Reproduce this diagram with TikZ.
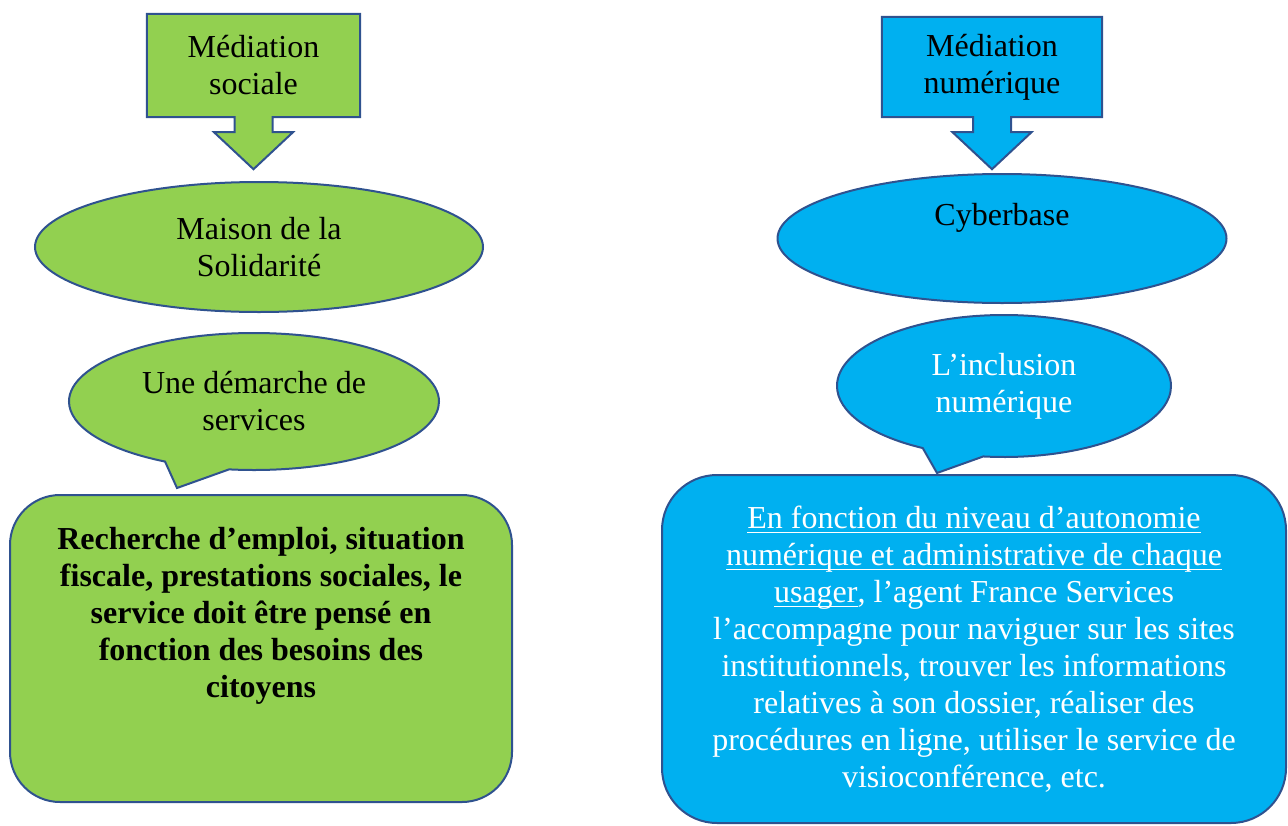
\documentclass[tikz,border=0pt]{standalone}
\usepackage{fontspec}
\setmainfont{Liberation Serif}
\usetikzlibrary{positioning,shapes.geometric,shapes.callouts,calc,backgrounds}
\definecolor{socgreen}{HTML}{92D050}
\definecolor{numblue}{HTML}{00B0F0}
\definecolor{rim}{HTML}{2F528F}
\tikzset{basic/.style={draw=rim,line width=2pt,align=center,inner sep=0pt,font=\fontsize{32}{37}\selectfont}}
\tikzset{head/.style={align=center,inner sep=0pt,minimum width=213pt,minimum height=103pt,font=\fontsize{32}{37}\selectfont}}
\tikzset{oval/.style={basic,ellipse,minimum width=448pt,minimum height=130pt}}
\tikzset{bubble/.style={basic,ellipse callout,callout pointer arc=21}}
\tikzset{panel/.style={basic,rectangle,rounded corners=50pt}}
% underline at a fixed depth, one line at a time
\newcommand{\uln}[1]{\leavevmode\setbox0\hbox{#1}\rlap{\rule[-5pt]{\wd0}{1.6pt}}\box0}
% filled outline of a box with its arrow pointing down
\newcommand{\arrowbox}[2]{%
  \begin{scope}[on background layer]
    \filldraw[draw=rim,fill=#2,line width=2pt]
      (#1.north west) -- (#1.north east) -- (#1.south east)
      -- ($(#1.south)+(19,0)$) -- ($(#1.south)+(19,15)$) -- ($(#1.south)+(39.5,15)$)
      -- ($(#1.south)+(0,52)$) -- ($(#1.south)+(-39.5,15)$) -- ($(#1.south)+(-19,15)$)
      -- ($(#1.south)+(-19,0)$) -- (#1.south west) -- cycle;
  \end{scope}}
\begin{document}
\begin{tikzpicture}[x=1pt,y=-1pt]
    \useasboundingbox (0,0) rectangle (1288,825);
    % social column
    \node[head] (medsoc) at (253.5,65.5) {Médiation\\sociale};
        \arrowbox{medsoc}{socgreen}
    \node[oval,fill=socgreen] (maison) at (259,247) {Maison de la\\Solidarité};
    \node[bubble,fill=socgreen,minimum width=370pt,minimum height=137pt,
        callout absolute pointer={(177,488)}] (demarche) at (254,401.5) {Une démarche de\\services};
    \node[panel,fill=socgreen,minimum width=502pt,minimum height=307pt,font=\fontsize{32}{37}\selectfont\bfseries]
        (besoins) at (261,648.5)
        {Recherche d’emploi, situation\\fiscale, prestations sociales, le\\service doit être pensé en\\fonction des besoins des\\citoyens\\[36pt]\mbox{}};
    % digital column
    \node[head,minimum width=220pt,minimum height=100pt] (mednum) at (992,67) {Médiation\\numérique};
        \arrowbox{mednum}{numblue}
    \node[oval,fill=numblue,minimum width=449pt,minimum height=129pt] (cyber) at (1002,238.5) {Cyberbase\\\strut};
    \node[bubble,fill=numblue,text=white,minimum width=334pt,minimum height=142pt,callout pointer arc=22,
        callout absolute pointer={(937,473)}] (inclusion) at (1004,386) {L’inclusion\\numérique};
    \node[panel,fill=numblue,text=white,rounded corners=55pt,minimum width=624pt,minimum height=348pt]
        (autonomie) at (974,649)
        {\uln{En fonction du niveau d’autonomie}\\
         \uln{numérique et administrative de chaque}\\
         \uln{usager}, l’agent France Services\\
         l’accompagne pour naviguer sur les sites\\
         institutionnels, trouver les informations\\
         relatives à son  dossier, réaliser des\\
         procédures en ligne, utiliser le service de\\
         visioconférence, etc.};
\end{tikzpicture}
\end{document}
